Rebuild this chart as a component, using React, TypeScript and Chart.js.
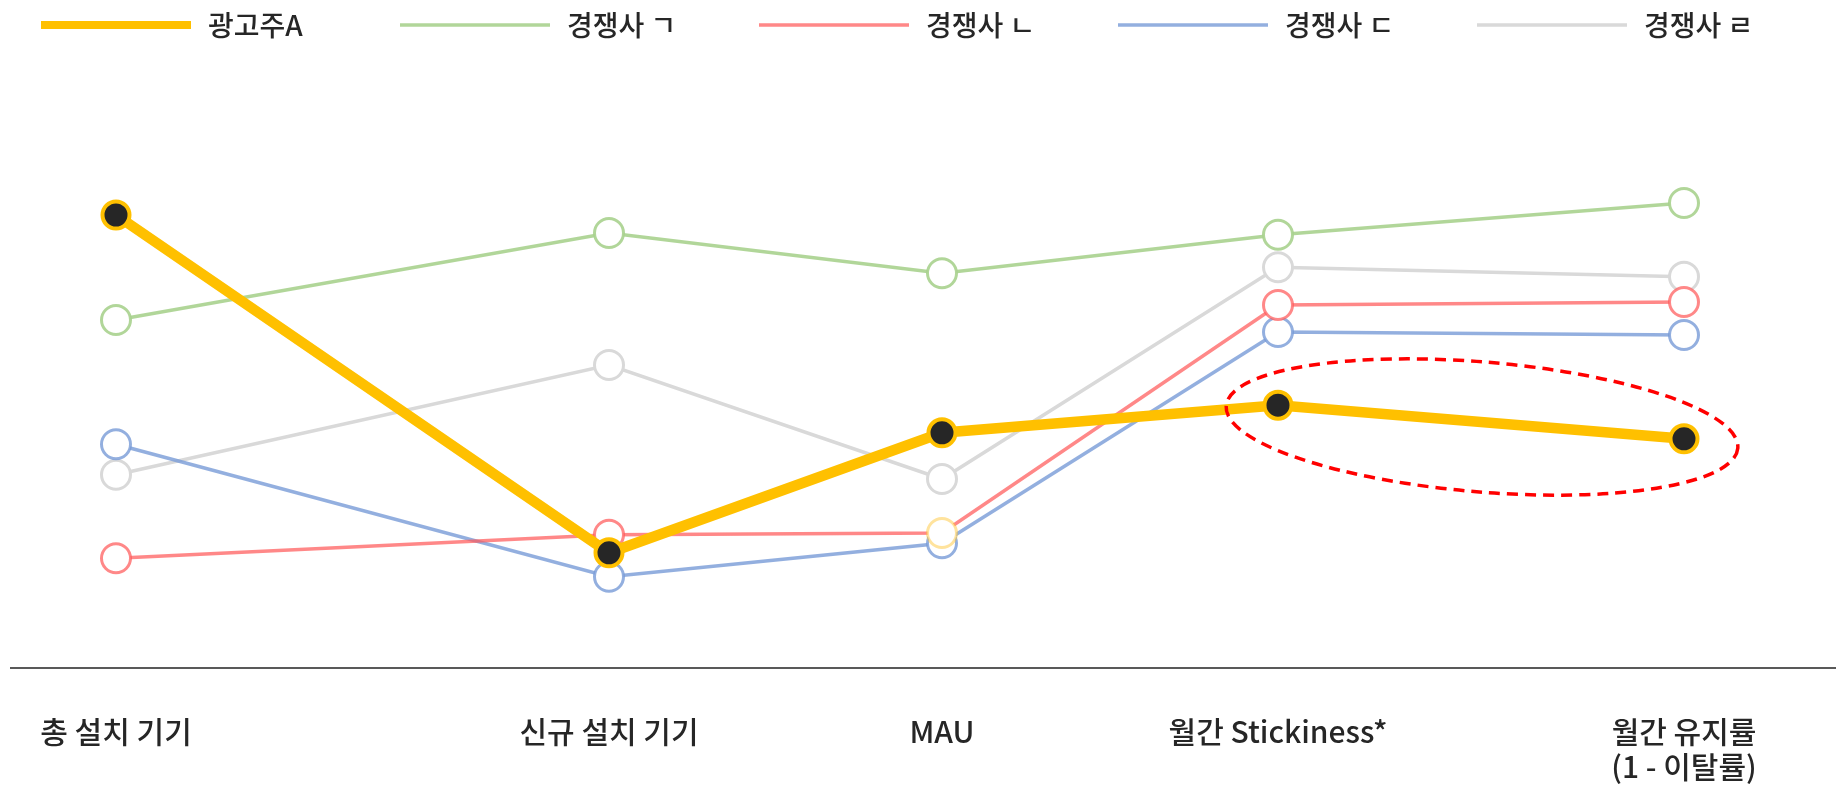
import React, { useEffect, useRef } from 'react';
import { Chart, registerables } from 'chart.js';

Chart.register(...registerables);

// ---- data ----
const tickLabels: (string | string[])[] = [
  '총 설치 기기',
  '신규 설치 기기',
  'MAU',
  '월간 Stickiness*',
  ['월간 유지률', '(1 - 이탈률)'],
];
// horizontal location of each metric on the (unevenly spaced) x axis
const categoryX = [1.05, 5.98, 9.31, 12.67, 16.73];
const seriesNames = ['광고주A', '경쟁사 ㄱ', '경쟁사 ㄴ', '경쟁사 ㄷ', '경쟁사 ㄹ'];
const advertiserA = [75.5, 19.2, 39.2, 43.8, 38.2];
const competitorG = [58.0, 72.5, 65.8, 72.2, 77.5];
const competitorN = [18.3, 22.2, 22.5, 60.5, 61.0];
const competitorD = [37.3, 15.2, 20.8, 56.0, 55.5];
const competitorR = [32.2, 50.5, 31.5, 66.8, 65.2];

const FONT = "'Noto Sans CJK KR', 'Noto Sans', sans-serif";
const TEXT = '#262626';

const toPoints = (vals: number[]) => vals.map((v, i) => ({ x: categoryX[i], y: v }));

const topLegend = {
  id: 'topLegend',
  afterDraw(chart: any) {
    const ctx = chart.ctx;
    ctx.save();
    ctx.font = `500 28px ${FONT}`;
    ctx.textBaseline = 'middle';
    ctx.textAlign = 'left';
    chart.data.datasets.forEach((ds: any, i: number) => {
      const textX = 208 + i * 359;
      ctx.beginPath();
      ctx.strokeStyle = ds.borderColor;
      ctx.lineWidth = Math.min(ds.borderWidth, 8);
      ctx.moveTo(textX - 167, 25);
      ctx.lineTo(textX - 17, 25);
      ctx.stroke();
      ctx.fillStyle = TEXT;
      ctx.fillText(ds.label, textX, 25);
    });
    ctx.restore();
  },
};

const highlight = {
  id: 'highlight',
  afterDatasetsDraw(chart: any) {
    const meta = chart.getDatasetMeta(0);
    const p1 = meta.data[3];
    const p2 = meta.data[4];
    if (!p1 || !p2) return;
    const ctx = chart.ctx;
    const angle = Math.atan2(p2.y - p1.y, p2.x - p1.x);
    const half = Math.hypot(p2.x - p1.x, p2.y - p1.y) / 2;
    const cx = (p1.x + p2.x) / 2 + 1;
    const cy = (p1.y + p2.y) / 2 + 5;
    ctx.save();
    ctx.beginPath();
    ctx.setLineDash([11, 7]);
    ctx.lineWidth = 3.5;
    ctx.strokeStyle = '#FF0000';
    ctx.ellipse(cx, cy, half + 53, 65, angle, 0, Math.PI * 2);
    ctx.stroke();
    ctx.restore();
  },
};

export default function App() {
  const ref = useRef<HTMLCanvasElement | null>(null);

  useEffect(() => {
    if (!ref.current) return;
    const openPoint = (color: string | string[]) => ({
      pointRadius: 14.5,
      pointBorderWidth: 3,
      pointBackgroundColor: '#FFFFFF',
      pointBorderColor: color,
    });
    const chart = new Chart(ref.current, {
      type: 'line',
      data: {
        datasets: [
          {
            label: seriesNames[0],
            data: toPoints(advertiserA),
            borderColor: '#FFC000',
            borderWidth: 10.5,
            pointRadius: 13.5,
            pointBorderWidth: 4,
            pointBackgroundColor: '#262626',
            pointBorderColor: '#FFC000',
          },
          {
            label: seriesNames[1],
            data: toPoints(competitorG),
            borderColor: 'rgba(169,209,142,0.9)',
            borderWidth: 3.5,
            ...openPoint('rgba(169,209,142,0.9)'),
          },
          {
            label: seriesNames[2],
            data: toPoints(competitorN),
            borderColor: 'rgba(255,90,90,0.72)',
            borderWidth: 3.5,
            ...openPoint([
              'rgba(255,90,90,0.72)',
              'rgba(255,90,90,0.72)',
              'rgba(255,200,60,0.5)',
              'rgba(255,90,90,0.72)',
              'rgba(255,90,90,0.72)',
            ]),
          },
          {
            label: seriesNames[3],
            data: toPoints(competitorD),
            borderColor: 'rgba(120,155,215,0.8)',
            borderWidth: 3.5,
            ...openPoint('rgba(120,155,215,0.8)'),
          },
          {
            label: seriesNames[4],
            data: toPoints(competitorR),
            borderColor: '#D9D9D9',
            borderWidth: 3.5,
            ...openPoint('#D9D9D9'),
          },
        ] as any,
      },
      options: {
        animation: false,
        responsive: true,
        maintainAspectRatio: false,
        events: [],
        layout: { autoPadding: false, padding: { top: 68, bottom: 1, left: 11, right: 2 } },
        plugins: {
          legend: { display: false },
          tooltip: { enabled: false },
          title: { display: false },
        },
        scales: {
          x: {
            type: 'linear',
            min: 0,
            max: 18.24,
            grid: { display: false, drawTicks: false },
            border: { display: true, color: '#595959', width: 2 },
            afterBuildTicks: (scale: any) => {
              scale.ticks = categoryX.map((v) => ({ value: v }));
            },
            afterFit: (scale: any) => {
              scale.height = 117;
              scale.paddingLeft = 0;
              scale.paddingRight = 0;
            },
            ticks: {
              autoSkip: false,
              maxRotation: 0,
              minRotation: 0,
              padding: 46,
              color: TEXT,
              font: { family: FONT, size: 30, weight: '500', lineHeight: 1.17 },
              callback: (_v: any, i: number) => tickLabels[i],
            },
          },
          y: {
            display: false,
            min: 0,
            max: 100,
          },
        },
      },
      plugins: [topLegend, highlight],
    } as any);
    return () => chart.destroy();
  }, []);

  return (
    <div style={{ position: 'fixed', left: 0, top: 0, width: 1837, height: 786, background: '#fff' }}>
      <canvas ref={ref} />
    </div>
  );
}
